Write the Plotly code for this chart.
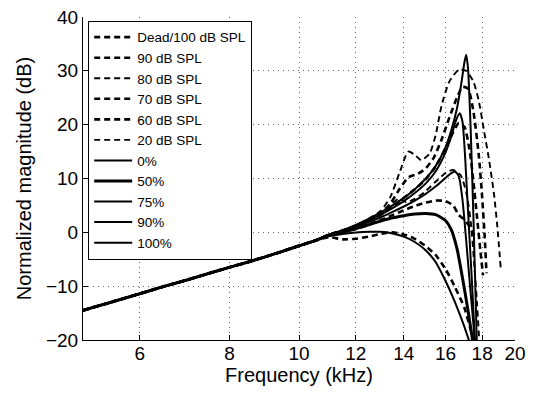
import plotly.graph_objects as go

# ---- data (frequency in kHz, magnitude in dB) ----
common_freq = [5, 5.5, 6, 6.5, 7, 7.5, 8, 8.5, 9, 9.5, 10, 10.5]
common_db = [-14.5, -12.9, -11.4, -10.0, -8.8, -7.6, -6.5, -5.5, -4.5, -3.5, -2.5, -1.6]

# dashed (level dependent) curves, tails after 10.5 kHz
dead_f = [11, 11.5, 12, 12.5, 13, 13.5, 14, 14.5, 15, 15.5, 16, 16.5, 17, 17.3, 17.6]
dead_db = [-0.9, -1.3, -1.2, -0.8, -0.3, 0.0, -0.4, -1.2, -2.5, -4.2, -6.8, -10.2, -14.0, -17.5, -21]

spl90_f = [11, 11.5, 12, 12.5, 13, 13.5, 14, 14.5, 15, 15.5, 16, 16.4, 16.7, 17.0, 17.3, 17.6]
spl90_db = [-0.6, 0.0, 0.6, 1.4, 2.3, 3.2, 4.1, 4.9, 5.5, 5.9, 5.8, 5.0, 3.2, 2.4, 1.0, -1.0]

spl80_f = [11, 11.5, 12, 12.5, 13, 13.4, 13.8, 14.1, 14.5, 15, 15.5, 16, 16.4, 16.8, 17.1, 17.35, 17.55, 17.7, 17.85]
spl80_db = [-0.5, 0.2, 1.0, 2.0, 3.3, 5.0, 6.3, 5.6, 6.2, 7.6, 9.4, 11.0, 11.6, 10.6, 7.5, 2.0, -6.0, -13.0, -21]

spl70_f = [11, 11.5, 12, 12.5, 13, 13.5, 14, 14.5, 15, 15.5, 16, 16.4, 16.7, 17.0, 17.3, 17.5, 17.7, 17.9, 18.05]
spl70_db = [-0.5, 0.3, 1.1, 2.1, 3.3, 4.8, 6.4, 8.0, 9.8, 12.2, 15.6, 18.6, 20.3, 19.6, 15.0, 9.5, 3.0, -3.5, -8.0]

spl60_f = [11, 11.5, 12, 12.5, 13, 13.4, 13.8, 14.2, 14.6, 15.0, 15.4, 15.8, 16.2, 16.6, 16.9, 17.2, 17.5, 17.8, 18.0, 18.15, 18.25]
spl60_db = [-0.5, 0.3, 1.1, 2.1, 3.5, 5.3, 8.0, 10.2, 10.8, 11.8, 13.8, 17.2, 21.3, 25.0, 27.0, 26.7, 22.5, 14.5, 6.5, -1.0, -7.6]

spl20_f = [11, 11.5, 12, 12.5, 13, 13.4, 13.8, 14.2, 14.5, 14.8, 15.2, 15.5, 15.8, 16.2, 16.7, 17.1, 17.5, 17.8, 18.1, 18.4, 18.7, 18.9, 19.1]
spl20_db = [-0.4, 0.4, 1.3, 2.5, 4.0, 6.5, 11.0, 15.0, 14.4, 13.4, 14.6, 18.0, 23.5, 28.0, 30.2, 30.0, 28.0, 24.5, 19.0, 13.5, 7.0, 1.0, -6.5]

# solid (percentage) curves
p0_f = [11, 11.5, 12, 12.5, 13, 13.5, 14, 14.5, 15, 15.5, 16, 16.5, 17, 17.3, 17.5]
p0_db = [-0.7, -0.3, -0.05, 0.1, 0.1, -0.2, -0.8, -1.8, -3.3, -5.5, -9.0, -13.0, -17.5, -20.5, -22]

p50_f = [11, 11.5, 12, 12.5, 13, 13.5, 14, 14.5, 15, 15.5, 16, 16.3, 16.6, 16.9, 17.2, 17.5]
p50_db = [-0.6, 0.0, 0.7, 1.4, 2.1, 2.7, 3.1, 3.4, 3.5, 3.3, 2.2, 0.5, -3.0, -8.5, -14.5, -21]

p75_f = [11, 11.5, 12, 12.5, 13, 13.5, 14, 14.5, 15, 15.5, 16, 16.3, 16.5, 16.7, 16.9, 17.1, 17.3, 17.5, 17.6]
p75_db = [-0.5, 0.2, 1.0, 1.9, 2.8, 3.8, 4.8, 5.9, 7.1, 8.5, 10.1, 11.0, 11.3, 10.4, 6.0, -1.5, -9.5, -17.0, -21]

p90_f = [11, 11.5, 12, 12.5, 13, 13.5, 14, 14.5, 15, 15.5, 16, 16.3, 16.55, 16.75, 16.9, 17.05, 17.2, 17.4, 17.6]
p90_db = [-0.5, 0.3, 1.2, 2.2, 3.3, 4.5, 5.8, 7.3, 9.0, 11.3, 14.8, 17.8, 20.8, 22.1, 20.5, 13.5, 4.0, -8.0, -21]

p100_f = [11, 11.5, 12, 12.5, 13, 13.5, 14, 14.5, 15, 15.5, 16, 16.3, 16.6, 16.85, 17.0, 17.1, 17.2, 17.35, 17.5, 17.7]
p100_db = [-0.4, 0.4, 1.4, 2.5, 3.7, 5.0, 6.4, 8.0, 9.9, 12.3, 15.8, 18.9, 23.0, 28.0, 31.5, 33.0, 30.5, 19.0, 3.0, -21]

x_ticks = [6, 8, 10, 12, 14, 16, 18, 20]
y_ticks = [-20, -10, 0, 10, 20, 30, 40]
y_ticktext = ["\u221220", "\u221210", "0", "10", "20", "30", "40"]

series = [
    ("Dead/100 dB SPL", dead_f, dead_db, "dash", 2.6),
    ("90 dB SPL", spl90_f, spl90_db, "dash", 2.6),
    ("80 dB SPL", spl80_f, spl80_db, "dash", 1.9),
    ("70 dB SPL", spl70_f, spl70_db, "dash", 2.6),
    ("60 dB SPL", spl60_f, spl60_db, "dash", 2.6),
    ("20 dB SPL", spl20_f, spl20_db, "dash", 1.9),
    ("0%", p0_f, p0_db, "solid", 2.0),
    ("50%", p50_f, p50_db, "solid", 3.0),
    ("75%", p75_f, p75_db, "solid", 2.0),
    ("90%", p90_f, p90_db, "solid", 2.0),
    ("100%", p100_f, p100_db, "solid", 2.0),
]

fig = go.Figure()
for name, f, db, style, w in series:
    fig.add_trace(go.Scatter(
        x=common_freq + f, y=common_db + db, name=name, mode="lines",
        line=dict(color="black", width=w,
                  dash="6px,4px" if style == "dash" else "solid",
                  shape="spline", smoothing=0.6),
    ))

font = "Liberation Sans, Arial, Helvetica, sans-serif"
fig.update_layout(
    width=537, height=394,
    margin=dict(l=83, r=22, t=17, b=54),
    paper_bgcolor="white", plot_bgcolor="white",
    font=dict(family=font, size=19, color="black"),
    showlegend=True,
    legend=dict(x=0.012, y=0.988, xanchor="left", yanchor="top",
                bgcolor="white", bordercolor="black", borderwidth=1,
                font=dict(size=13.5, family=font), tracegroupgap=0,
                itemwidth=38),
)
fig.update_xaxes(
    type="log", range=[0.69897, 1.30103], automargin=False,
    tickvals=x_ticks, ticktext=[str(v) for v in x_ticks],
    ticks="inside", ticklen=5, tickcolor="black", ticklabelstandoff=-4,
    showline=True, linecolor="black", linewidth=1, mirror=False,
    showgrid=True, gridcolor="#666", gridwidth=1, griddash="1px,4px",
    zeroline=False,
    title=dict(text="Frequency (kHz)", font=dict(size=20), standoff=2),
)
fig.update_yaxes(
    range=[-20, 40], tickvals=y_ticks, ticktext=y_ticktext, automargin=False,
    ticks="inside", ticklen=5, tickcolor="black",
    showline=True, linecolor="black", linewidth=1, mirror=False,
    showgrid=True, gridcolor="#666", gridwidth=1, griddash="1px,4px",
    zeroline=False,
    title=dict(text="Normalized magnitude (dB)", font=dict(size=20), standoff=8),
)

fig.write_html("out.html")
